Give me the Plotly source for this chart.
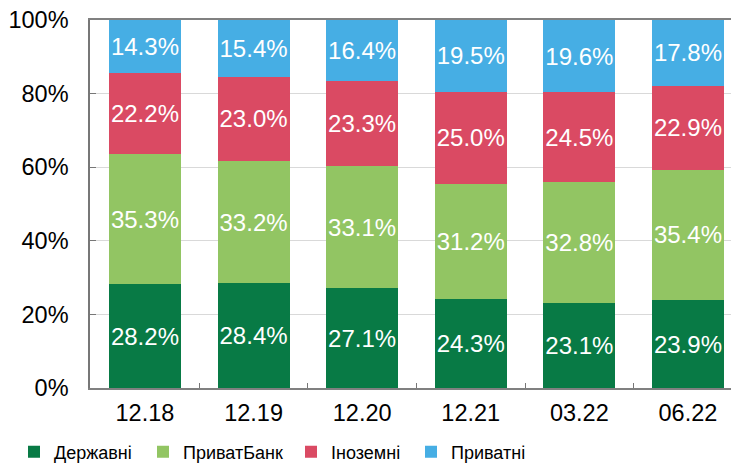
import plotly.graph_objects as go

categories = ["12.18", "12.19", "12.20", "12.21", "03.22", "06.22"]
derzhavni = [28.2, 28.4, 27.1, 24.3, 23.1, 23.9]
privatbank = [35.3, 33.2, 33.1, 31.2, 32.8, 35.4]
inozemni = [22.2, 23.0, 23.3, 25.0, 24.5, 22.9]
pryvatni = [14.3, 15.4, 16.4, 19.5, 19.6, 17.8]
yticks = [0, 20, 40, 60, 80, 100]
ytick_labels = ["0%", "20%", "40%", "60%", "80%", "100%"]

series = [
    ("Державні", derzhavni, "#087A45"),
    ("ПриватБанк", privatbank, "#92C563"),
    ("Іноземні", inozemni, "#DA4A63"),
    ("Приватні", pryvatni, "#46AEE4"),
]

FONT = "Liberation Sans, Arial, sans-serif"
# the page body adds an 8px offset, so the figure is sized to the visible area
OFF = 8
W, H = 739 - OFF, 464 - OFF
# legend text left edges (window px)
legend_text_x = [56, 185, 333, 453]

fig = go.Figure()
legend_layout = {}
for i, (name, vals, color) in enumerate(series):
    lg = "legend" if i == 0 else f"legend{i+1}"
    fig.add_trace(go.Bar(
        x=categories, y=vals, name=name,
        marker=dict(color=color, line=dict(width=0)),
        text=[f"{v:.1f}%" for v in vals],
        textposition="inside", insidetextanchor="middle",
        constraintext="none", textangle=0,
        textfont=dict(color="white", size=24, family=FONT),
        hoverinfo="skip", legend=lg,
    ))
    legend_layout[lg] = dict(
        orientation="h", xref="container", yref="container",
        x=(legend_text_x[i] - OFF - 42) / W, y=1 - (452 - OFF) / H,
        xanchor="left", yanchor="middle",
        font=dict(size=18, family=FONT, color="black"),
        itemwidth=30, bgcolor="rgba(0,0,0,0)", borderwidth=0,
    )

fig.update_layout(
    barmode="stack",
    bargap=0.337,
    width=W, height=H,
    margin=dict(l=90 - OFF, r=0, t=20 - OFF, b=76, autoexpand=False),
    plot_bgcolor="white", paper_bgcolor="white",
    font=dict(family=FONT, size=22, color="black"),
    showlegend=True,
    xaxis=dict(
        showline=True, linecolor="#808080", linewidth=2, mirror=True,
        ticks="inside", ticklen=5, tickcolor="#777777", tickson="boundaries",
        tickfont=dict(size=23.5, family=FONT, color="black"),
        showgrid=False, range=[-0.506, 5.47], automargin=False,
        ticklabelstandoff=3, ticklabeloverflow="allow",
    ),
    yaxis=dict(
        range=[0, 100], tickvals=yticks, ticktext=ytick_labels,
        showline=True, linecolor="#777777", linewidth=1.5,
        ticks="inside", ticklen=6, tickcolor="#777777",
        showgrid=True, gridcolor="#D9D9D9", gridwidth=1,
        tickfont=dict(size=23.5, family=FONT, color="black"),
        ticklabelstandoff=15, zeroline=False, automargin=False,
        ticklabeloverflow="allow",
    ),
    **legend_layout,
)

fig.write_html("out.html")
